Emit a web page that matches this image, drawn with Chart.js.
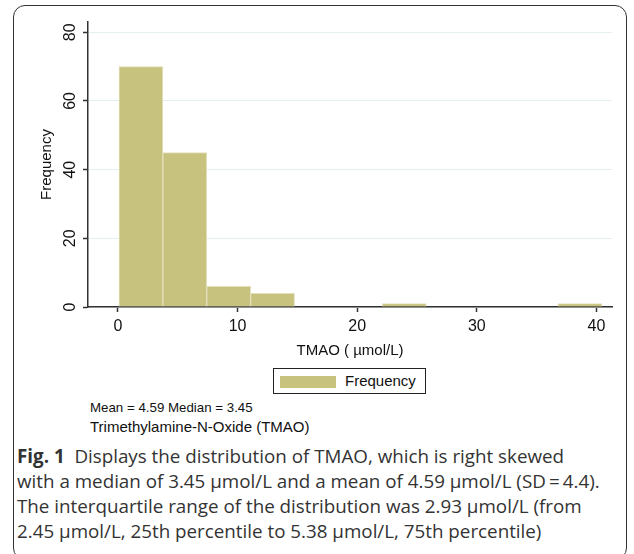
<!DOCTYPE html>
<html>
<head>
<meta charset="utf-8">
<script src="https://cdn.jsdelivr.net/npm/chart.js@4"></script>
<style>
  body { margin: 0; background: #fff; }
  #page { position: relative; width: 634px; height: 554px; overflow: hidden; font-family: "Liberation Sans", Arial, sans-serif; }
  #frame { position: absolute; left: 13px; top: 5px; width: 614px; height: 555px; border: 1.5px solid #333; border-radius: 12px; box-sizing: border-box; }
  #wrap { position: absolute; left: 0; top: 0; width: 634px; height: 364px; }
  #legend { position: absolute; left: 273px; top: 368px; width: 153px; height: 26px; border: 1.5px solid #222; box-sizing: border-box; }
  #legend .sw { position: absolute; left: 6px; top: 7px; width: 56px; height: 12px; background: #c8c27f; }
  #legend .lb { position: absolute; left: 71px; top: 3px; font-size: 15px; color: #111; }
  .note { position: absolute; left: 90px; color: #111; white-space: nowrap; }
  #caption { position: absolute; left: 17px; top: 444px; width: 615px; font-family: "Open Sans", sans-serif; font-size: 18.8px; line-height: 25px; color: #333; white-space: nowrap; }
</style>
</head>
<body>
<div id="page">
  <div id="frame"></div>
  <div id="wrap"><canvas id="hist"></canvas></div>
  <div id="legend"><div class="sw"></div><div class="lb">Frequency</div></div>
  <div class="note" style="top:400px;font-size:13.3px;">Mean = 4.59 Median = 3.45</div>
  <div class="note" style="top:418px;font-size:15px;">Trimethylamine-N-Oxide (TMAO)</div>
  <div id="caption"><b>Fig. 1</b>&nbsp; Displays the distribution of TMAO, which is right skewed<br>with a median of 3.45 µmol/L and a mean of 4.59 µmol/L (SD&thinsp;=&thinsp;4.4).<br>The interquartile range of the distribution was 2.93 µmol/L (from<br>2.45 µmol/L, 25th percentile to 5.38 µmol/L, 75th percentile)</div>
</div>
<script>
// Datos del histograma (centros de cada intervalo y frecuencias)
const binCenters = [1.92, 5.59, 9.26, 12.93, 16.6, 20.27, 23.94, 27.61, 31.28, 34.95, 38.62];
const frequencies = [70, 45, 6, 4, 0, 0, 1, 0, 0, 0, 1];
const xTicks = [0, 10, 20, 30, 40];
const yTicks = [0, 20, 40, 60, 80];

const barColor = '#c8c27f';
const axisColor = '#333';
const chartFont = '"Liberation Sans", Arial, sans-serif';

const points = binCenters.map((x, i) => ({ x: x, y: frequencies[i] }));

new Chart(document.getElementById('hist'), {
    type: 'bar',
    data: {
        datasets: [{
            label: 'Frequency',
            data: points,
            backgroundColor: barColor,
            borderColor: '#e4e0bd',
            borderWidth: 1,
            categoryPercentage: 1,
            barPercentage: 1
        }]
    },
    options: {
        responsive: true,
        maintainAspectRatio: false,
        animation: false,
        layout: { padding: { left: 34, right: 22, top: 22, bottom: 0 } },
        plugins: { legend: { display: false }, tooltip: { enabled: false } },
        scales: {
            x: {
                type: 'linear',
                min: -2.5,
                max: 41.3,
                offset: false,
                afterBuildTicks: function(axis) { axis.ticks = xTicks.map(v => ({ value: v })); },
                afterFit: function(axis) { axis.height = 57; },
                grid: { offset: false, drawOnChartArea: false, tickLength: 5, tickColor: axisColor, tickWidth: 1.5 },
                border: { color: axisColor, width: 1.5 },
                ticks: { color: '#111', padding: 5, maxRotation: 0, font: { family: chartFont, size: 16 } },
                title: { display: true, text: 'TMAO ( µmol/L)', color: '#111', font: { family: chartFont, size: 15 } }
            },
            y: {
                min: 0,
                max: 83,
                afterBuildTicks: function(axis) { axis.ticks = yTicks.map(v => ({ value: v })); },
                afterFit: function(axis) { axis.width = 54; },
                grid: { color: '#e6eff0', lineWidth: 1, tickLength: 5, tickColor: axisColor, tickWidth: 1.5 },
                border: { color: axisColor, width: 1.5 },
                ticks: { color: '#111', padding: 4, minRotation: 90, maxRotation: 90, crossAlign: 'center', font: { family: chartFont, size: 16 } },
                title: { display: true, text: 'Frequency', color: '#111', font: { family: chartFont, size: 15 } }
            }
        }
    }
});
</script>
</body>
</html>
